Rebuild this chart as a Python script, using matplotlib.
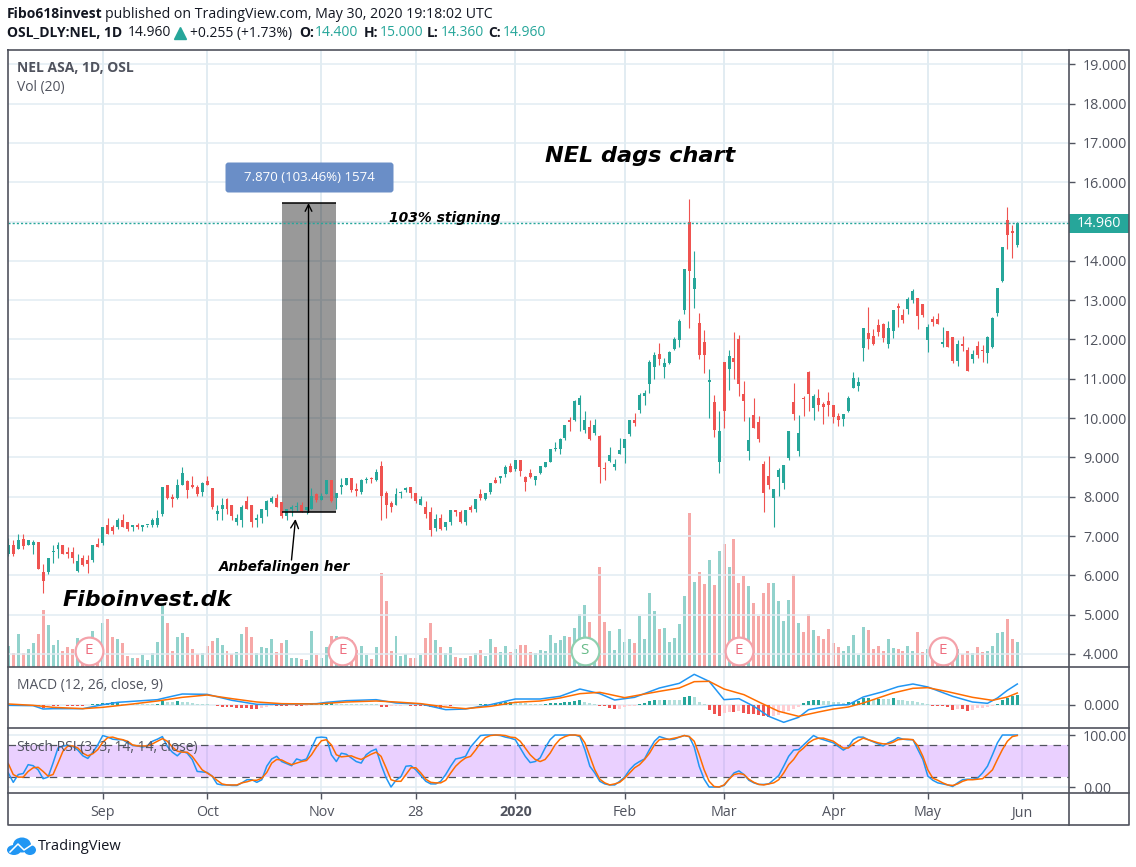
#!/usr/bin/env python3
# NEL ASA daily chart, TradingView style
import matplotlib
matplotlib.use('Agg')
import matplotlib.pyplot as plt
from matplotlib.patches import FancyBboxPatch, Rectangle, Ellipse

# %% Candles (one row = 10 bars)
opens = [6.55, 6.78, 6.68, 6.93, 6.78, 6.76, 6.86, 6.09, 6.09, 6.59,
         6.66, 6.78, 6.60, 6.59, 6.12, 6.45, 6.40, 6.40, 6.81, 6.83,
         7.28, 7.24, 7.22, 7.40, 7.37, 7.22, 7.29, 7.22, 7.27, 7.27,
         7.27, 7.57, 8.29, 8.00, 7.96, 8.31, 8.39, 8.31, 8.26, 8.11,
         8.39, 8.21, 7.57, 7.68, 7.93, 7.80, 7.37, 7.40, 7.88, 7.78,
         7.40, 7.47, 7.65, 7.86, 7.96, 7.86, 7.52, 7.68, 7.73, 7.78,
         7.65, 7.68, 8.06, 7.91, 8.06, 8.42, 7.96, 8.24, 8.29, 8.47,
         8.19, 8.11, 8.42, 8.47, 8.42, 8.77, 8.09, 7.83, 7.80, 8.10,
         8.16, 8.26, 8.09, 7.80, 7.75, 7.60, 7.21, 7.47, 7.24, 7.37,
         7.65, 7.62, 7.37, 7.73, 7.68, 8.06, 7.93, 8.11, 8.42, 8.47,
         8.57, 8.77, 8.70, 8.93, 8.49, 8.60, 8.42, 8.60, 8.75, 8.88,
         9.21, 9.21, 9.49, 9.95, 9.95, 10.33, 9.69, 9.77, 9.62, 9.54,
         8.72, 8.90, 8.75, 9.08, 9.23, 9.59, 9.95, 10.20, 10.56, 10.87,
         11.30, 11.63, 11.30, 11.40, 11.76, 11.99, 12.76, 14.99, 13.29, 12.43,
         11.94, 10.93, 10.41, 8.88, 11.43, 11.25, 11.53, 12.02, 10.61, 9.16,
         10.08, 9.90, 8.83, 8.52, 7.96, 8.49, 8.34, 8.98, 10.41, 9.16,
         10.51, 11.17, 10.26, 10.51, 10.36, 10.43, 10.33, 10.05, 9.97, 10.18,
         10.77, 10.82, 11.79, 12.17, 12.09, 12.37, 12.40, 11.89, 12.22, 12.86,
         12.63, 12.78, 13.01, 13.06, 12.91, 11.99, 12.53, 12.53, 11.89, 12.22,
         12.07, 11.46, 11.89, 11.74, 11.51, 11.84, 11.74, 11.66, 11.81, 12.68,
         13.50, 15.03, 14.77, 14.40]
highs = [6.95, 6.89, 7.04, 7.04, 6.91, 6.91, 6.86, 6.30, 6.45, 6.78,
         6.86, 6.78, 6.71, 6.73, 6.55, 6.53, 6.53, 6.78, 6.94, 7.24,
         7.47, 7.29, 7.47, 7.55, 7.37, 7.29, 7.32, 7.29, 7.29, 7.45,
         7.65, 8.26, 8.31, 8.06, 8.44, 8.75, 8.42, 8.52, 8.31, 8.37,
         8.52, 8.21, 7.80, 7.96, 7.96, 7.80, 7.55, 7.80, 8.03, 7.78,
         7.55, 7.68, 7.91, 8.01, 8.06, 7.86, 7.70, 7.78, 7.86, 7.86,
         7.75, 8.21, 8.09, 8.09, 8.42, 8.42, 8.09, 8.47, 8.47, 8.47,
         8.34, 8.44, 8.49, 8.49, 8.70, 8.90, 8.14, 7.88, 8.21, 8.14,
         8.26, 8.26, 8.09, 8.03, 7.88, 7.73, 7.55, 7.57, 7.37, 7.65,
         7.65, 7.65, 7.65, 7.78, 7.93, 8.19, 8.09, 8.34, 8.49, 8.54,
         8.80, 8.85, 8.93, 8.93, 8.52, 8.70, 8.54, 8.77, 8.88, 9.21,
         9.39, 9.49, 9.82, 10.03, 10.45, 10.59, 10.18, 9.95, 9.97, 9.56,
         8.88, 9.26, 8.95, 9.49, 9.46, 9.95, 10.13, 10.64, 10.71, 11.48,
         11.69, 11.91, 11.53, 11.71, 12.07, 12.53, 13.80, 15.57, 14.24, 12.68,
         12.25, 11.25, 10.59, 10.18, 11.43, 11.74, 12.20, 12.12, 10.95, 10.03,
         10.51, 10.05, 8.90, 9.03, 8.19, 8.72, 8.80, 9.67, 10.89, 10.08,
         10.56, 11.20, 10.61, 10.74, 10.41, 10.66, 10.33, 10.13, 10.10, 10.56,
         11.17, 11.05, 12.30, 12.83, 12.27, 12.53, 12.43, 12.48, 12.76, 12.94,
         12.78, 13.09, 13.29, 13.06, 12.91, 12.40, 12.60, 12.68, 12.32, 12.22,
         12.07, 11.99, 12.09, 11.81, 11.74, 11.97, 11.86, 12.09, 12.58, 13.32,
         14.34, 15.36, 14.90, 15.00]
lows = [6.49, 6.50, 6.66, 6.68, 6.76, 6.55, 6.17, 5.56, 6.04, 6.32,
        6.45, 6.55, 6.43, 6.32, 6.09, 6.25, 6.07, 6.35, 6.73, 6.78,
        7.04, 7.06, 7.19, 7.22, 7.14, 7.14, 7.19, 7.14, 7.24, 7.24,
        7.24, 7.52, 7.93, 7.75, 7.93, 8.29, 7.96, 8.21, 8.03, 8.03,
        8.31, 7.68, 7.40, 7.42, 7.57, 7.42, 7.27, 7.24, 7.70, 7.24,
        7.22, 7.34, 7.52, 7.83, 7.73, 7.47, 7.40, 7.50, 7.63, 7.60,
        7.55, 7.68, 7.86, 7.91, 8.06, 7.86, 7.70, 8.06, 8.29, 8.11,
        8.03, 8.06, 8.34, 8.34, 8.39, 7.42, 7.45, 7.60, 7.78, 7.96,
        8.11, 7.98, 7.85, 7.78, 7.47, 7.01, 7.14, 7.16, 7.16, 7.29,
        7.50, 7.34, 7.29, 7.60, 7.62, 7.91, 7.91, 8.06, 8.34, 8.34,
        8.49, 8.62, 8.65, 8.52, 8.14, 8.47, 8.29, 8.57, 8.75, 8.88,
        9.16, 9.08, 9.44, 9.67, 9.92, 9.67, 9.62, 9.44, 9.57, 8.34,
        8.42, 8.88, 8.67, 9.08, 8.85, 9.54, 9.80, 10.13, 10.33, 10.64,
        11.00, 11.35, 11.02, 11.38, 11.74, 11.81, 12.66, 12.30, 12.81, 11.51,
        11.15, 10.00, 9.51, 8.60, 9.74, 10.71, 11.00, 10.56, 9.92, 8.93,
        9.74, 9.39, 7.60, 8.19, 7.22, 8.01, 8.19, 8.93, 9.95, 9.03,
        10.05, 10.18, 9.95, 10.18, 9.85, 10.05, 9.87, 9.80, 9.80, 10.15,
        10.77, 10.69, 11.46, 11.76, 11.86, 12.09, 11.94, 11.79, 12.04, 12.32,
        12.43, 12.66, 12.94, 12.27, 12.58, 11.69, 12.35, 12.40, 11.81, 11.81,
        11.40, 11.33, 11.71, 11.20, 11.40, 11.53, 11.43, 11.40, 11.79, 12.60,
        13.47, 14.31, 14.06, 14.36]
closes = [6.76, 6.55, 6.89, 6.74, 6.89, 6.86, 6.17, 5.86, 6.43, 6.60,
          6.76, 6.55, 6.55, 6.45, 6.37, 6.27, 6.30, 6.76, 6.73, 7.22,
          7.06, 7.14, 7.40, 7.24, 7.17, 7.27, 7.22, 7.27, 7.29, 7.40,
          7.47, 8.24, 7.96, 7.95, 8.29, 8.60, 8.16, 8.24, 8.06, 8.34,
          8.31, 7.73, 7.63, 7.80, 7.68, 7.50, 7.45, 7.75, 7.70, 7.37,
          7.45, 7.68, 7.88, 7.96, 7.75, 7.52, 7.68, 7.73, 7.75, 7.60,
          7.73, 8.01, 7.91, 8.03, 8.42, 7.88, 8.09, 8.31, 8.47, 8.16,
          8.14, 8.42, 8.44, 8.44, 8.62, 8.01, 7.80, 7.75, 8.06, 8.12,
          8.21, 8.09, 7.88, 7.93, 7.57, 7.16, 7.44, 7.19, 7.37, 7.65,
          7.60, 7.37, 7.65, 7.65, 7.93, 7.98, 8.09, 8.34, 8.36, 8.54,
          8.75, 8.62, 8.93, 8.65, 8.37, 8.49, 8.54, 8.77, 8.88, 9.21,
          9.23, 9.46, 9.82, 9.90, 10.43, 10.51, 9.95, 9.46, 9.82, 8.75,
          8.70, 9.06, 8.83, 9.18, 9.46, 9.95, 9.87, 10.59, 10.64, 11.43,
          11.61, 11.51, 11.40, 11.69, 12.02, 12.48, 13.78, 13.75, 13.57, 11.61,
          11.61, 10.95, 9.69, 9.67, 10.18, 11.58, 11.43, 10.87, 10.43, 9.44,
          9.74, 9.46, 8.09, 8.31, 8.19, 8.67, 8.80, 9.67, 10.10, 9.62,
          10.49, 10.61, 10.56, 10.33, 10.28, 10.33, 10.03, 9.95, 10.10, 10.51,
          11.02, 10.92, 12.30, 12.02, 11.89, 12.20, 12.04, 12.30, 12.76, 12.81,
          12.50, 13.04, 13.24, 12.60, 12.63, 12.32, 12.45, 12.40, 11.94, 11.81,
          11.46, 11.89, 11.84, 11.20, 11.63, 11.61, 11.71, 12.07, 12.55, 13.32,
          14.34, 14.65, 14.72, 14.96]
volumes = [21, 14, 33, 14, 18, 24, 33, 57, 42, 22,
           27, 16, 20, 18, 29, 26, 27, 36, 17, 44,
           48, 30, 28, 24, 11, 9, 9, 12, 7, 14,
           25, 62, 44, 16, 30, 34, 30, 18, 13, 14,
           21, 26, 29, 22, 16, 13, 15, 33, 40, 30,
           14, 20, 19, 28, 15, 24, 27, 9, 9, 8,
           7, 36, 12, 9, 20, 31, 31, 27, 30, 27,
           17, 21, 12, 8, 20, 94, 66, 16, 31, 11,
           13, 9, 9, 12, 29, 44, 27, 20, 14, 20,
           10, 9, 9, 11, 14, 17, 11, 28, 20, 15,
           21, 15, 18, 22, 22, 15, 14, 17, 16, 32,
           24, 27, 31, 30, 39, 53, 62, 45, 14, 100,
           45, 36, 17, 38, 25, 28, 24, 51, 28, 74,
           56, 38, 39, 25, 29, 43, 71, 154, 85, 95,
           83, 107, 82, 116, 123, 100, 128, 84, 91, 81,
           64, 51, 74, 84, 84, 66, 46, 67, 93, 44,
           35, 53, 37, 31, 28, 38, 24, 20, 16, 21,
           32, 12, 40, 37, 18, 21, 16, 28, 19, 18,
           16, 21, 16, 35, 15, 18, 12, 12, 14, 16,
           16, 18, 13, 16, 14, 20, 15, 16, 21, 34,
           35, 48, 28, 25]

# %% MACD (12, 26, close, 9)
macd_hist = [0, -.01, -.01, -.01, -.02, -.02, -.03, -.10, -.03, -.03,
             -.03, -.02, -.03, -.03, -.03, -.03, -.02, .01, .02, .04,
             .05, .07, .09, .03, .03, .02, .02, .02, .02, .02,
             .03, .11, .08, .08, .10, .09, .08, .05, .03, .02,
             .01, -.02, -.05, -.06, -.06, -.07, -.09, -.09, -.10, -.12,
             -.12, -.09, -.07, -.05, -.05, -.05, -.05, -.03, -.03, -.04,
             -.03, .01, .01, .02, .03, .04, .03, .03, .03, .03,
             .03, .03, .03, .03, .03, -.06, -.06, -.05, -.04, -.03,
             -.02, -.03, -.03, -.04, -.04, -.06, -.08, -.11, -.03, -.03,
             -.02, -.02, -.02, -.01, 0, .01, .02, .03, .05, .06,
             .07, .08, .08, .05, .04, .03, .02, .02, .03, .04,
             .05, .06, .07, .09, .10, .14, .09, .05, .03, -.03,
             -.05, -.09, -.13, -.12, -.07, -.05, -.03, .02, .05, .10,
             .14, .14, .15, .15, .15, .15, .22, .25, .24, .07,
             .01, -.15, -.28, -.35, -.25, -.22, -.22, -.20, -.25, -.27,
             -.28, -.30, -.35, -.37, -.35, -.30, -.25, -.20, -.13, -.06,
             .05, .12, .14, .15, .12, .10, .08, .07, .06, .07,
             .09, .12, .20, .21, .15, .18, .17, .17, .19, .15,
             .13, .12, .10, .08, .05, .01, -.03, -.03, -.05, -.07,
             -.15, -.12, -.14, -.20, -.15, -.11, -.10, -.08, -.04, .03,
             .13, .20, .25, .28]
macd_bars = [0, 5, 7, 9, 15, 19, 22, 25, 30, 32, 35, 40, 45, 50, 55, 62, 64, 68, 74, 78,
             83, 88, 92, 97, 102, 107, 111, 115, 119, 122, 126, 131, 135, 138, 141, 144,
             147, 150, 153, 156, 159, 161, 166, 169, 172, 176, 179, 182, 185, 190, 194,
             197, 199, 201, 203]
macd_line = [-.02, -.03, -.13, -.12, -.12, 0, .07, .10, .15, .22, .32, .31, .13, .01, .01,
             .03, .07, .12, .15, .05, .02, -.15, -.13, 0, .17, .17, .25, .47, .33, .14,
             .22, .50, .64, .91, .70, .15, .18, -.05, -.35, -.53, -.38, -.15, -.02, 0,
             .23, .39, .54, .62, .53, .25, .08, .04, .20, .43, .62]
signal_bars = [0, 5, 9, 15, 19, 25, 30, 35, 40, 45, 50, 55, 62, 68, 74, 78, 83, 88, 92, 97,
               102, 107, 111, 115, 119, 124, 131, 135, 138, 141, 144, 148, 151, 155, 159,
               163, 166, 169, 172, 178, 182, 185, 189, 194, 198, 201, 203]
signal_line = [.02, -.02, -.08, -.12, -.08, .02, .11, .22, .29, .18, .08, .03, .02, .08,
               .11, .08, .03, -.07, -.12, -.05, .07, .11, .20, .33, .37, .21, .40, .50,
               .69, .70, .47, .30, .08, -.20, -.35, -.22, -.13, -.07, .05, .35, .49, .51,
               .39, .22, .13, .23, .35]

# %% Stoch RSI (3, 3, 14, 14, close), one value per bar
stoch_k = [27, 9, 24, 26, 43, 41, 33, 16, 19, 46,
           75, 79, 80, 78, 71, 60, 55, 67, 81, 99,
           96, 92, 91, 91, 85, 80, 79, 77, 79, 88,
           92, 97, 78, 67, 60, 69, 65, 53, 30, 29,
           28, 21, 6, 4, 4, 3, 3, 8, 14, 14,
           9, 14, 40, 54, 59, 49, 45, 41, 54, 51,
           54, 75, 95, 96, 95, 62, 49, 65, 63, 56,
           49, 46, 62, 69, 73, 43, 18, 0, 13, 20,
           40, 41, 33, 22, 11, 6, 6, 11, 24, 40,
           54, 56, 59, 77, 88, 99, 100, 100, 100, 99,
           96, 94, 91, 75, 59, 47, 49, 56, 75, 91,
           100, 100, 100, 100, 100, 97, 72, 40, 27, 11,
           6, 4, 4, 11, 19, 33, 43, 49, 54, 72,
           88, 97, 94, 91, 92, 96, 99, 97, 77, 40,
           15, 0, 0, 0, 3, 15, 27, 31, 24, 13,
           8, 5, 5, 6, 14, 22, 40, 59, 71, 72,
           81, 90, 99, 94, 91, 88, 85, 78, 71, 77,
           91, 96, 96, 91, 87, 83, 79, 85, 89, 95,
           92, 91, 91, 72, 53, 21, 13, 8, 6, 4,
           1, 8, 14, 15, 15, 17, 27, 40, 62, 85,
           100, 100, 100, 100]
stoch_d = [45, 24, 19, 19, 30, 37, 38, 30, 21, 24,
           46, 69, 79, 79, 75, 65, 60, 64, 72, 86,
           95, 96, 93, 91, 88, 81, 79, 79, 79, 83,
           88, 93, 88, 77, 69, 67, 67, 59, 46, 33,
           27, 21, 13, 6, 4, 4, 4, 8, 10, 13,
           13, 17, 28, 46, 53, 52, 47, 43, 46, 49,
           51, 62, 77, 89, 91, 81, 62, 58, 59, 60,
           56, 53, 58, 63, 67, 59, 37, 14, 11, 11,
           24, 37, 37, 27, 15, 9, 8, 8, 13, 27,
           40, 49, 56, 59, 71, 85, 95, 99, 100, 100,
           99, 96, 95, 88, 75, 62, 53, 49, 53, 65,
           81, 92, 97, 100, 100, 99, 85, 59, 33, 15,
           8, 4, 6, 9, 17, 27, 37, 43, 53, 65,
           81, 91, 92, 92, 94, 96, 99, 97, 88, 62,
           33, 11, 1, 0, 4, 15, 24, 26, 24, 15,
           9, 5, 4, 6, 8, 14, 27, 43, 53, 67,
           75, 85, 91, 94, 94, 91, 88, 81, 75, 75,
           83, 89, 94, 91, 88, 85, 83, 83, 86, 91,
           92, 92, 91, 79, 59, 33, 17, 13, 8, 4,
           3, 6, 11, 14, 14, 15, 16, 24, 33, 53,
           72, 88, 97, 99]

# %% Axis labels
time_ticks = [19, 40, 63, 82, 102, 124, 144, 166, 185, 204]
time_labels = ['Sep', 'Oct', 'Nov', '28', '2020', 'Feb', 'Mar', 'Apr', 'May', 'Jun']
price_ticks = [4, 5, 6, 7, 8, 9, 10, 11, 12, 13, 14, 15, 16, 17, 18, 19]
price_last = 14.96
measure_low = 7.60
measure_high = 15.47
earnings_bars = [16.2, 67.2, 147, 188]
split_bar = 116
event_level = 4.08

# %% Style
W, H = 1136, 867
up_color = '#26a69a'
down_color = '#ef5350'
grid_color = '#e1ecf2'
frame_color = '#50535e'
text_color = '#50535e'
font = 'Open Sans'
plt.rcParams['font.family'] = [font, 'DejaVu Sans']
bars = list(range(len(opens)))
colors = [up_color if c >= o else down_color for o, c in zip(opens, closes)]


def panel(top, bottom, left=7.5, right=1068.5):
    a = fig.add_axes([left/W, 1 - bottom/H, (right - left)/W, (bottom - top)/H])
    a.set_xlim(-0.16, 213.3)
    for spine in a.spines.values():
        spine.set_visible(False)
    a.set_xticks(time_ticks)
    a.tick_params(axis='x', length=0, labelbottom=False)
    a.yaxis.tick_right()
    a.tick_params(axis='y', length=4, width=1, color=frame_color, labelcolor=text_color,
                  labelsize=10.3, pad=6.5)
    a.grid(True, color=grid_color, linewidth=1.1)
    a.set_axisbelow(True)
    return a


fig = plt.figure(figsize=(W/100, H/100), dpi=100, facecolor='white')

# %% Main panel: volume goes underneath the candles
ax = panel(49.5, 667)
ax.set_ylim(3.669, 19.376)
ax.set_yticks(price_ticks)
# the 15 label sits under the last price tag, so it stays empty
ax.set_yticklabels(['' if p == 15 else f'{p:.3f}' for p in price_ticks])
ax.set_zorder(2)
ax.patch.set_visible(False)

ax_vol = panel(49.5, 667)
ax_vol.set_ylim(0, 617.5)
ax_vol.set_zorder(1)
ax_vol.set_yticks([])
ax_vol.grid(False)
ax_vol.grid(True, axis='x', color=grid_color, linewidth=1.1)
ax_vol.bar(bars, volumes, width=0.6, color=colors, alpha=0.5, linewidth=0)

# measuring tool
ax.add_patch(Rectangle((55, measure_low), 11, measure_high - measure_low,
                       facecolor='#000000', alpha=0.4, linewidth=0, zorder=1.5))
ax.hlines([measure_low, measure_high], 55, 66, color='black', linewidth=1.1, zorder=4)
ax.annotate('', xy=(60.4, measure_high), xytext=(60.4, measure_low),
            arrowprops=dict(arrowstyle='->', color='black', lw=1, mutation_scale=12,
                            shrinkA=0, shrinkB=0), zorder=4)

ax.vlines(bars, lows, highs, colors=colors, linewidth=0.8, zorder=3)
ax.bar(bars, [max(abs(c - o), 0.03) for o, c in zip(opens, closes)],
       bottom=[min(o, c) for o, c in zip(opens, closes)],
       width=0.6, color=colors, linewidth=0, zorder=3)
ax.axhline(price_last, color=up_color, linewidth=1, linestyle=(0, (1.5, 1.5)), zorder=3.5)

# earnings and split badges
ax.scatter(earnings_bars, [event_level]*4, s=400, facecolor='white', edgecolor='#f4a2aa',
           linewidth=1.6, zorder=5)
ax.scatter([split_bar], [event_level], s=400, facecolor='white', edgecolor='#8fd0b0',
           linewidth=1.6, zorder=5)
for b in earnings_bars:
    ax.text(b, event_level, 'E', color='#ee6f80', fontsize=11, ha='center', va='center', zorder=6)
ax.text(split_bar, event_level, 'S', color='#66bb88', fontsize=11, ha='center', va='center', zorder=6)

# %% MACD panel
ax_macd = panel(667, 728)
ax_macd.set_ylim(-0.70, 1.13)
ax_macd.set_yticks([0])
ax_macd.set_yticklabels(['0.000'])
hist_colors = []
for i, h in enumerate(macd_hist):
    prev = macd_hist[i - 1] if i else 0
    if h >= 0:
        hist_colors.append('#26a69a' if h > prev else '#b2dfdb')
    else:
        hist_colors.append('#ffcdd2' if h > prev else '#ef5350')
ax_macd.bar(bars, macd_hist, width=0.6, color=hist_colors, linewidth=0, zorder=2)
ax_macd.plot(macd_bars, macd_line, color='#2196f3', linewidth=1.1, zorder=3)
ax_macd.plot(signal_bars, signal_line, color='#ff6d00', linewidth=1.1, zorder=3)

# %% Stoch RSI panel
ax_rsi = panel(728, 793)
ax_rsi.set_ylim(-11.5, 113.5)
ax_rsi.set_yticks([0, 100])
ax_rsi.set_yticklabels(['0.00', '100.00'])
ax_rsi.axhspan(20, 80, color='#9915ff', alpha=0.2, linewidth=0, zorder=1)
ax_rsi.axhline(80, color=frame_color, linewidth=0.9, linestyle=(0, (6, 5)), zorder=2)
ax_rsi.axhline(20, color=frame_color, linewidth=0.9, linestyle=(0, (6, 5)), zorder=2)
ax_rsi.plot(bars, stoch_k, color='#2196f3', linewidth=1.1, zorder=3)
ax_rsi.plot(bars, stoch_d, color='#ff6d00', linewidth=1.1, zorder=3)
ax_rsi.set_xticklabels(time_labels)
ax_rsi.tick_params(axis='x', length=4, width=1, color=frame_color, labelbottom=True,
                   labelcolor=text_color, labelsize=10.3, pad=5)
ax_rsi.get_xticklabels()[4].set_fontweight('bold')

# %% Overlay in pixel coordinates: frame, labels, annotations
ov = fig.add_axes([0, 0, 1, 1])
ov.set_xlim(0, W)
ov.set_ylim(H, 0)
ov.axis('off')
ov.patch.set_visible(False)
ov.set_zorder(5)

ov.plot([7.5, 1128.5, 1128.5, 7.5, 7.5], [49.5, 49.5, 825, 825, 49.5], color=frame_color, lw=1.2)
ov.plot([1068.5, 1068.5], [49.5, 825], color=frame_color, lw=1.2)
for y in [667, 728, 793]:
    ov.plot([7.5, 1128.5], [y, y], color=frame_color, lw=1.2)

# header
ov.text(7, 14, 'Fibo618invest', fontsize=10, fontweight='bold', color='#131722', va='center')
ov.text(105, 14, 'published on TradingView.com, May 30, 2020 19:18:02 UTC', fontsize=10.2,
        color='#131722', va='center')
ov.text(7, 33, 'OSL_DLY:NEL, 1D', fontsize=10, fontweight='bold', color='#131722', va='center')
ov.text(128, 33, '14.960', fontsize=10, color='#131722', va='center')
ov.plot([180], [33], marker='^', color=up_color, markersize=8, linewidth=0)
ov.text(190, 33, '+0.255 (+1.73%)', fontsize=10, color='#131722', va='center')
for x, name, xv, val in [(299, 'O:', 315, '14.400'), (364, 'H:', 380, '15.000'),
                         (427, 'L:', 441, '14.360'), (488, 'C:', 503, '14.960')]:
    ov.text(x, 33, name, fontsize=10, fontweight='bold', color='#131722', va='center')
    ov.text(xv, 33, val, fontsize=10, color=up_color, va='center')

ov.text(17, 68.5, 'NEL ASA, 1D, OSL', fontsize=10, fontweight='bold', color=text_color, va='center')
ov.text(17, 87.5, 'Vol (20)', fontsize=10, color=text_color, va='center')
ov.text(17, 686, 'MACD (12, 26, close, 9)', fontsize=10, color=text_color, va='center')
ov.text(17, 747, 'Stoch RSI (3, 3, 14, 14, close)', fontsize=10, color=text_color, va='center')

# last price tag
ov.add_patch(Rectangle((1068.5, 214), 60, 19, facecolor=up_color, linewidth=0))
ov.text(1098.5, 223.5, '14.960', fontsize=10.3, color='white', ha='center', va='center')

# measuring label
ov.add_patch(FancyBboxPatch((227.5, 164.5), 164, 26, boxstyle='round,pad=2,rounding_size=3',
                            facecolor='#6a8ec7', edgecolor='none'))
ov.text(309, 177.5, '7.870 (103.46%) 1574', fontsize=9.5, color='white', ha='center', va='center')

# hand drawn notes
note = dict(fontweight='bold', fontstyle='italic', family='DejaVu Sans', color='black', va='center')
ov.text(545, 156, 'NEL dags chart', fontsize=16.1, **note)
ov.text(389, 218, '103% stigning', fontsize=10, **note)
ov.text(219, 567, 'Anbefalingen her', fontsize=9.75, **note)
ov.text(63, 600, 'Fiboinvest.dk', fontsize=15.9, **note)
ov.annotate('', xy=(295.5, 519), xytext=(291.5, 560),
            arrowprops=dict(arrowstyle='->', color='black', lw=1, mutation_scale=14,
                            shrinkA=0, shrinkB=0))

# TradingView logo
for cx, cy, w, h in [(14, 850, 14, 10), (22, 845, 18, 15), (30, 850, 12, 10)]:
    ov.add_patch(Ellipse((cx, cy), w, h, facecolor='#2196f3', edgecolor='none'))
ov.plot([10, 18, 24, 33], [852, 844, 850, 844], color='white', lw=1.1)
ov.text(38, 846, 'TradingView', fontsize=10.5, color='#131722', va='center')

fig.savefig('out.png', dpi=100, facecolor='white')
